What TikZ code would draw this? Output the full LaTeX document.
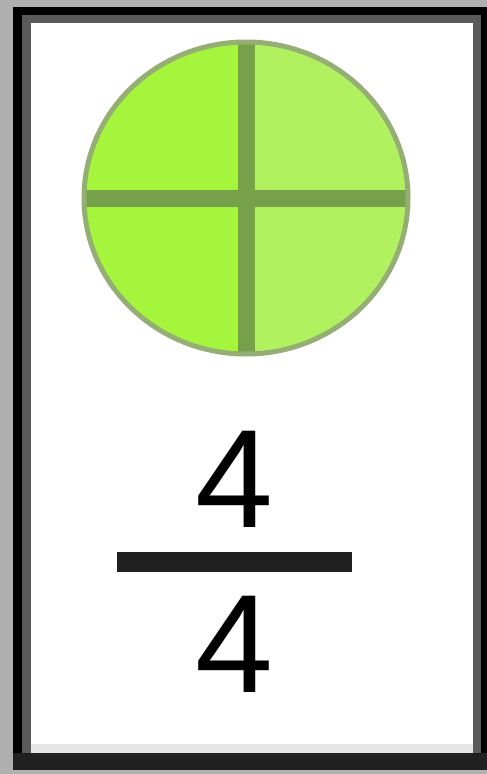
\documentclass[tikz,border=0pt]{standalone}
\usepackage{fontspec}
\setmainfont{Liberation Sans}
\usetikzlibrary{shapes.geometric}
\definecolor{outergray}{HTML}{B0B0B0}
\definecolor{framedark}{HTML}{5A5A5A}
\definecolor{framebottom}{HTML}{202020}
\definecolor{lightrow}{HTML}{E6E6E6}
\definecolor{limeleft}{HTML}{A5F53C}
\definecolor{limeright}{HTML}{B1F160}
\definecolor{divline}{HTML}{76A04A}
\definecolor{rimcol}{HTML}{94AE74}
\definecolor{barcol}{HTML}{202020}
\tikzset{
  digit/.style={inner sep=0pt, anchor=base, font=\fontsize{140}{140}\selectfont, text=black},
  divider/.style={draw=divline, line width=17pt},
  fracbar/.style={draw=barcol, line width=20pt}
}
\begin{document}
\begin{tikzpicture}[x=1pt,y=-1pt]
\useasboundingbox (0,0) rectangle (487,774);
% frame
\fill[outergray] (0,0) rectangle (487,774);
\fill[black] (13,7) rectangle (487,770);
\fill[framedark] (22,15) rectangle (481,753);
\fill[white] (31,23) rectangle (473,744);
\fill[lightrow] (31,744) rectangle (473,753);
\fill[framebottom] (13,753) rectangle (487,770);
% pie
\node[ellipse, minimum width=324pt, minimum height=312pt, inner sep=0pt] (pie) at (246,198) {};
\begin{scope}
  \clip (246,198) ellipse [x radius=162pt, y radius=156pt];
  \fill[limeleft] (84,40) rectangle (247,356);
  \fill[limeright] (247,40) rectangle (410,356);
\end{scope}
\draw[divider] (pie.west) -- (pie.east);
\draw[divider] (pie.north) -- (pie.south);
\draw[rimcol, line width=5pt] (246,198) ellipse [x radius=162pt, y radius=156pt];
% fraction
\node[digit] (num) at (234,527) {4};
\coordinate (barL) at (117,562);
\coordinate (barR) at (352,562);
\draw[fracbar] (barL) -- (barR);
\node[digit] (den) at (234,692) {4};
\end{tikzpicture}
\end{document}
